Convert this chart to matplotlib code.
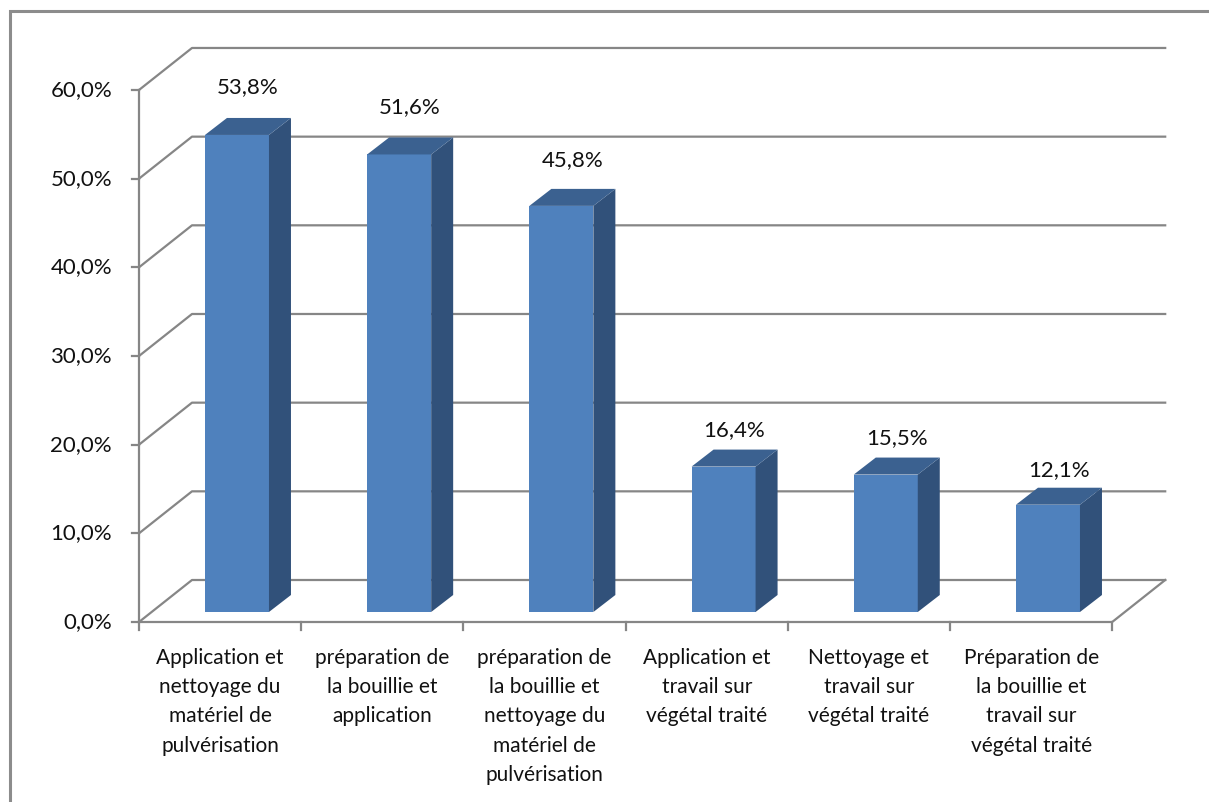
import numpy as np
import matplotlib
matplotlib.use('Agg')
from matplotlib import pyplot as plt
from matplotlib.patches import Polygon, Rectangle

categories = ['Application et\nnettoyage du\nmatériel de\npulvérisation',
              'préparation de\nla bouillie et\napplication',
              'préparation de\nla bouillie et\nnettoyage du\nmatériel de\npulvérisation',
              'Application et\ntravail sur\nvégétal traité',
              'Nettoyage et\ntravail sur\nvégétal traité',
              'Préparation de\nla bouillie et\ntravail sur\nvégétal traité']
values = [53.8, 51.6, 45.8, 16.4, 15.5, 12.1]
yticks = [0, 10, 20, 30, 40, 50, 60]

plt.rcParams['font.family'] = ['Lato', 'DejaVu Sans']

W, H = 1209, 802
X0, SLOT = 139, 162.2      # px of x=0, px per category
Y0, PPU = 622, 8.867       # px of y=0 (from top), px per percent

fig = plt.figure(figsize=(W/100, H/100), dpi=100)
ax = fig.add_axes([0, 0, 1, 1])
ax.set_xlim(-X0/SLOT, (W-X0)/SLOT)
ax.set_ylim(-(H-Y0)/PPU, Y0/PPU)
ax.axis('off')

# depth of the 3d box and of the bars
DX, DY = 53/SLOT, 42/PPU
BX, BY = 0.104, 10/PPU
BW = 64/SLOT
DDX, DDY = 22/SLOT, 17/PPU

grid = '#868686'
txt = '#111111'
n = len(values)

# walls / gridlines
for t in yticks:
    ax.plot([0, DX, n+DX], [t, t+DY, t+DY], color=grid, lw=1.6, zorder=1)
    ax.plot([-7/SLOT, 0], [t, t], color=grid, lw=1.6, zorder=1)
    ax.text(-27/SLOT, t, f'{t:.1f}'.replace('.', ',') + '%', ha='right', va='center',
            fontsize=16, color=txt)
ax.plot([0, 0], [0, yticks[-1]], color=grid, lw=1.6, zorder=1)
ax.plot([0, n, n+DX], [0, 0, DY], color=grid, lw=1.6, zorder=1)
for i in range(n+1):
    ax.plot([i, i], [0, -8/PPU], color=grid, lw=1.6, zorder=1)

# bars
front = '#4F81BD'
side = '#31517A'
top = '#3B6190'
for i, v in enumerate(values):
    xl = i + 0.5 + BX - BW/2
    xr = xl + BW
    ax.add_patch(Rectangle((xl, BY), BW, v, fc=front, ec='none', zorder=3))
    ax.add_patch(Polygon([(xr, BY), (xr+DDX, BY+DDY), (xr+DDX, BY+DDY+v), (xr, BY+v)],
                         closed=True, fc=side, ec='none', zorder=3))
    ax.add_patch(Polygon([(xl, BY+v), (xr, BY+v), (xr+DDX, BY+v+DDY), (xl+DDX, BY+v+DDY)],
                         closed=True, fc=top, ec='none', zorder=3))
    ax.text(i + 0.5 + BX + DDX/2, BY + v*1.036 + 3.5, f'{v:.1f}'.replace('.', ',') + '%',
            ha='center', va='center', fontsize=16, color=txt, zorder=4)

for i, c in enumerate(categories):
    ax.text(i + 0.5, -2.95, c, ha='center', va='top', fontsize=15,
            linespacing=1.57, color=txt)

# chart border
fig.patches.append(Rectangle((10/W, -0.1), 1.5, 1.1 - 11/H, transform=fig.transFigure,
                             fill=False, ec='#8c8c8c', lw=2.2))

fig.savefig('out.png', dpi=100)
